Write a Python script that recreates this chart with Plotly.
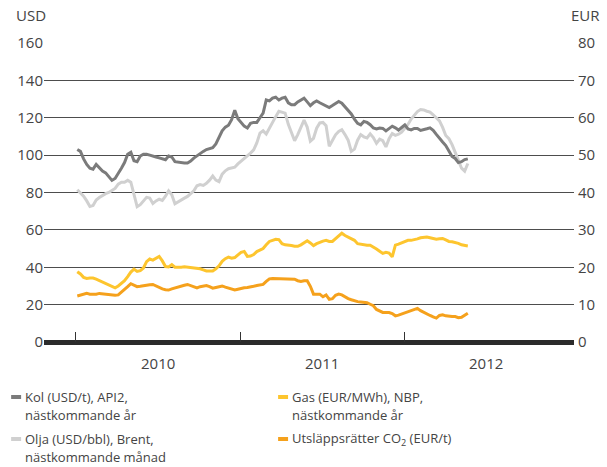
import pandas as pd
import plotly.graph_objects as go

# weekly observations, first Monday of 2010 onwards
weeks = pd.date_range('2010-01-04', periods=125, freq='7D')

kol_usd = [
    103, 102, 98, 95, 93, 92.5, 95, 93, 91.5, 90.5,
    88.5, 86.5, 87.5, 90, 93, 96, 100.5, 101.5, 97, 96.5,
    99.5, 100.5, 100.5, 100, 99.7, 99, 98.5, 98, 97.5, 99.5,
    99, 96.5, 96.2, 96, 95.8, 95.8, 96.8, 98.4, 99.7, 101,
    102, 103, 103.5, 104, 106, 109.5, 113, 115, 116, 119,
    124, 119.5, 117.5, 115.5, 114.5, 117, 117.5, 117.5, 120, 122.5,
    129.5, 129, 130.5, 131, 129.5, 130.5, 131, 128, 127, 127,
    128.5, 129.5, 130.5, 128.5, 126.5, 128, 129, 128, 127.3, 126.5,
    125.5, 126.5, 127.5, 128.7, 127.8, 126, 124, 122, 119.3, 117,
    116.2, 118, 117.5, 116.3, 114.5, 114, 114.5, 114.3, 113, 114.2,
    115.5, 114.6, 113.4, 114.8, 116.2, 114, 113.5, 114.3, 114.3, 113.2,
    113.5, 114.1, 114.6, 113.3, 111.1, 108.8, 107, 105.1, 101.8, 99.3,
    98.2, 96, 96.5, 97.6, 98,
]

olja_usd = [
    81.5, 80, 78, 75.5, 72.5, 73, 76, 77.3, 78.5, 79.4,
    80, 81, 82.2, 84.5, 85.5, 85.5, 86.5, 85.5, 78.5, 72.4,
    73.5, 75.3, 77.4, 77, 74.1, 75.5, 76.4, 75.8, 78, 80.9,
    78.8, 74, 75.1, 76.1, 77, 77.9, 79.2, 80.9, 83.6, 84.2,
    83.8, 84.9, 86.6, 88.8, 86.6, 85.8, 89.8, 91.6, 92.7, 93.1,
    93.5, 95.3, 96.7, 97.9, 99.4, 101.1, 102.8, 106.5, 111.8, 113,
    111.3, 114.6, 117.5, 120.6, 123.5, 123, 122.5, 116.5, 111.8, 107.7,
    111, 114.8, 118.7, 115, 107.5, 109, 114.4, 117.2, 117.5, 115.7,
    104.8, 107.8, 110.9, 112.7, 113.6, 111, 108, 102, 103.2, 108,
    111, 109.8, 109.2, 111.4, 109.4, 106.3, 108.5, 107.7, 104.4, 108.8,
    111.6, 110.6, 111.2, 112.3, 114.1, 116.4, 119.3, 121.5, 123.3, 124.4,
    124.2, 123.5, 123, 121.6, 120, 118.3, 114.8, 110.5, 108.8, 105.6,
    101.5, 97, 93, 91.4, 95.5,
]

gas_eur = [
    18.8, 18.2, 17.3, 17, 17.1, 17.1, 16.8, 16.4, 16, 15.6,
    15.1, 14.8, 14.5, 15, 15.6, 16.4, 17.5, 18.7, 19.5, 18.9,
    19.1, 19.8, 21.5, 22.2, 21.9, 22.4, 22.9, 21.7, 20.2, 20.1,
    20.7, 20, 19.9, 20, 20.1, 20, 19.9, 19.8, 19.7, 19.6,
    19.3, 19, 19, 19, 19.6, 20.4, 21.6, 22.3, 22.7, 22.4,
    22.6, 23.2, 24, 24.2, 22.9, 23, 23.4, 24.2, 24.7, 25,
    26, 26.9, 27.2, 27.5, 27.4, 26.3, 26, 26, 25.8, 25.6,
    25.6, 26, 26.5, 27.1, 26.5, 25.8, 26.3, 26.7, 27, 27.2,
    26.9, 26.9, 27.6, 28.4, 29.1, 28.5, 28.1, 27.8, 27.2, 26.3,
    26.1, 25.9, 25.9, 25.9, 25.5, 24.9, 24.3, 23.7, 24, 23.8,
    22.8, 25.9, 26.2, 26.6, 27, 27.2, 27.2, 27.3, 27.6, 27.9,
    28, 28.1, 27.9, 27.6, 27.5, 27.6, 27.7, 27.3, 26.9, 26.8,
    26.7, 26.4, 26, 25.8, 25.7,
]

co2_eur = [
    12.3, 12.5, 12.8, 13, 12.8, 12.7, 12.8, 13, 12.9, 12.8,
    12.7, 12.6, 12.5, 12.6, 13.3, 13.9, 14.8, 15.6, 15.2, 14.8,
    14.9, 15.1, 15.2, 15.3, 15.4, 15, 14.5, 14.2, 14, 13.9,
    14.2, 14.5, 14.8, 15, 15.2, 15.4, 15.1, 14.8, 14.5, 14.8,
    15, 15.1, 14.8, 14.4, 14.6, 14.8, 15, 14.7, 14.4, 14.1,
    13.9, 14.1, 14.4, 14.5, 14.6, 14.7, 14.9, 15.1, 15.2, 15.4,
    16.2, 16.9, 17, 17, 17, 16.9, 16.8, 16.9, 17, 16.8,
    16.4, 16.2, 16.4, 16.4, 14.9, 12.8, 12.8, 12.8, 12.1, 12.6,
    11.4, 11.6, 12.5, 12.8, 12.6, 12, 11.6, 11.3, 11, 10.8,
    10.7, 10.6, 10.5, 10.1, 9.7, 8.7, 8.2, 7.9, 7.9, 7.9,
    7.6, 7, 7.2, 7.5, 7.7, 7.9, 8.3, 8.7, 9, 8.4,
    7.9, 7.6, 7.1, 6.7, 6.4, 7.1, 7.3, 7, 6.8, 6.8,
    6.8, 6.5, 6.6, 7.2, 7.7,
]

year_ticks = ['2010-01-01', '2011-01-01', '2012-01-01']
year_label_pos = ['2010-07-02', '2011-07-02', '2012-07-01']
year_labels = ['2010', '2011', '2012']

legend_lines = [
    ['Kol (USD/t), API2,', 'nästkommande år'],
    ['Olja (USD/bbl), Brent,', 'nästkommande månad'],
    ['Gas (EUR/MWh), NBP,', 'nästkommande år'],
    ['Utsläppsrätter CO<sub>2</sub> (EUR/t)'],
]
colors = ['#7b7b7b', '#d0d0d0', '#fdc52e', '#f5a11c']

FONT = 'Open Sans'
TXT = '#444444'

fig = go.Figure()
fig.add_trace(go.Scatter(x=weeks, y=olja_usd, mode='lines', yaxis='y',
                         line=dict(color=colors[1], width=3), showlegend=False))
fig.add_trace(go.Scatter(x=weeks, y=kol_usd, mode='lines', yaxis='y',
                         line=dict(color=colors[0], width=3), showlegend=False))
fig.add_trace(go.Scatter(x=weeks, y=gas_eur, mode='lines', yaxis='y2',
                         line=dict(color=colors[2], width=3), showlegend=False))
fig.add_trace(go.Scatter(x=weeks, y=co2_eur, mode='lines', yaxis='y2',
                         line=dict(color=colors[3], width=3), showlegend=False))

fig.update_layout(
    width=607, height=467,
    margin=dict(l=44, r=31, t=43, b=125),
    paper_bgcolor='white', plot_bgcolor='white',
    font=dict(family=FONT, size=15, color=TXT),
    xaxis=dict(
        type='date', range=['2009-10-22', '2013-01-12'],
        tickmode='array', tickvals=year_ticks, showticklabels=False,
        ticks='inside', ticklen=10, tickwidth=1, tickcolor='#333333',
        showgrid=False, showline=False, zeroline=False,
    ),
    yaxis=dict(
        range=[0, 160], tickmode='linear', tick0=0, dtick=20,
        showgrid=True, gridcolor='#4d4d4d', gridwidth=1,
        zeroline=True, zerolinecolor='#2b2b2b', zerolinewidth=5,
        showline=False, ticks='',
    ),
    yaxis2=dict(
        range=[0, 80], tickmode='linear', tick0=0, dtick=10,
        overlaying='y', side='right', showgrid=False, zeroline=False,
        showline=False, ticks='', ticklabelstandoff=3,
    ),
)

for pos, lab in zip(year_label_pos, year_labels):
    fig.add_annotation(text=lab, xref='x', yref='paper', x=pos, y=-0.0702,
                       xanchor='center', yanchor='middle', showarrow=False)

fig.add_annotation(text='USD', xref='paper', yref='paper', x=-0.057, y=1.0936,
                   xanchor='left', yanchor='middle', showarrow=False)
fig.add_annotation(text='EUR', xref='paper', yref='paper', x=0.990, y=1.0936,
                   xanchor='left', yanchor='middle', showarrow=False)

# hand-made legend, two columns
row_y = [[-0.1839, -0.2441], [-0.3244, -0.3846], [-0.1839, -0.2441], [-0.3244]]
col_x = [-0.0620, -0.0620, 0.4417, 0.4417]
for lines, col, x0, ys in zip(legend_lines, colors, col_x, row_y):
    fig.add_shape(type='rect', xref='paper', yref='paper',
                  x0=x0, x1=x0 + 0.0188, y0=ys[0] - 0.0067, y1=ys[0] + 0.0067,
                  fillcolor=col, line=dict(width=0))
    for txt, y in zip(lines, ys):
        fig.add_annotation(text=txt, xref='paper', yref='paper', x=x0 + 0.0226, y=y,
                           xanchor='left', yanchor='middle', align='left',
                           showarrow=False, font=dict(size=13, color=TXT))

# drop the browser's default 8px body margin so the figure sits at 0,0
fig.write_html('out.html', config={'displayModeBar': False},
               post_script="document.body.style.margin='0px';")
